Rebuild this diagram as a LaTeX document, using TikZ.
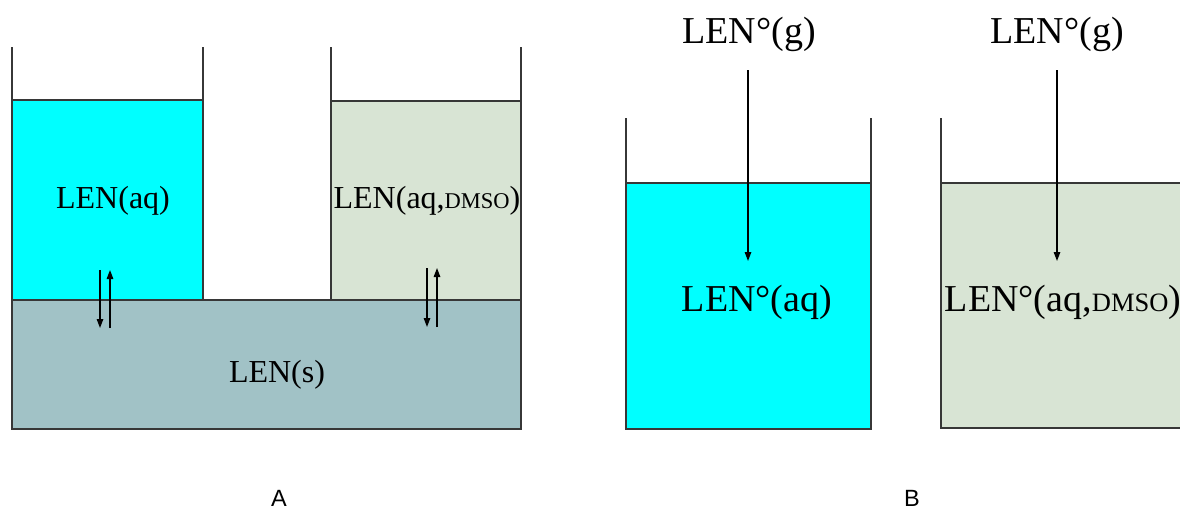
\documentclass[tikz,border=0pt]{standalone}
\usepackage{fontspec}
\setmainfont{Liberation Serif}
\newfontfamily\arialfont{Liberation Sans}
\usetikzlibrary{arrows.meta}
\definecolor{aqcol}{RGB}{0,255,255}
\definecolor{dmsocol}{RGB}{216,228,212}
\definecolor{solidcol}{RGB}{161,194,198}
\definecolor{edgecol}{RGB}{55,55,55}
\newcommand\smcA[1]{{\fontsize{22.5}{26}\selectfont #1}}
\newcommand\smcB[1]{{\fontsize{26.5}{30}\selectfont #1}}
\begin{document}
\begin{tikzpicture}[x=1pt,y=-1pt,
  wall/.style={draw=edgecol,line width=1.6pt},
  liquid/.style={draw=edgecol,line width=1.6pt},
  arr/.style={line width=1.3pt,black,-{Triangle[length=9pt,width=6.5pt]}},
  labA/.style={inner sep=0pt,font=\fontsize{32}{36}\selectfont},
  labB/.style={inner sep=0pt,font=\fontsize{38}{44}\selectfont},
  panel/.style={inner sep=0pt,font=\arialfont\fontsize{23.5}{27}\selectfont}]
\useasboundingbox (0,0) rectangle (1180,509);
\clip (0,0) rectangle (1180,509);
% ---------- Panel A ----------
\fill[solidcol] (12,300) rectangle (521,429);
\draw[liquid] (12,300) rectangle (521,429);
\fill[aqcol] (12,100) rectangle (203,300);
\draw[liquid] (12,100) rectangle (203,300);
\fill[dmsocol] (331,101) rectangle (521,300);
\draw[liquid] (331,101) rectangle (521,300);
\draw[wall] (12,47) -- (12,100);
\draw[wall] (203,47) -- (203,100);
\draw[wall] (331,47) -- (331,101);
\draw[wall] (521,47) -- (521,101);
\node[labA] (aq) at (113,201) {LEN(aq)};
\node[labA] (aqd) at (427,201) {LEN(aq,\smcA{DMSO})};
\node[labA] (s) at (277,375) {LEN(s)};
\coordinate (a1t) at (100,270); \coordinate (a1b) at (100,328);
\coordinate (a2t) at (110,270); \coordinate (a2b) at (110,328);
\coordinate (b1t) at (427,268); \coordinate (b1b) at (427,327);
\coordinate (b2t) at (437,268); \coordinate (b2b) at (437,327);
\draw[arr] (a1t) -- (a1b);
\draw[arr] (a2b) -- (a2t);
\draw[arr] (b1t) -- (b1b);
\draw[arr] (b2b) -- (b2t);
\node[panel] (A) at (279,498) {A};
% ---------- Panel B ----------
\fill[aqcol] (626,183) rectangle (871,429);
\draw[liquid] (626,183) rectangle (871,429);
\draw[wall] (626,118) -- (626,183);
\draw[wall] (871,118) -- (871,183);
\fill[dmsocol] (941,183) rectangle (1200,428);
\draw[liquid] (941,183) rectangle (1200,428);
\draw[wall] (941,118) -- (941,183);
\node[labB] (g1) at (749,34) {LEN°(g)};
\node[labB] (g2) at (1057,34) {LEN°(g)};
\node[labB] (baq) at (757,302) {LEN°(aq)};
\node[labB] (bdmso) at (1063,302) {LEN°(aq,\smcB{DMSO})};
\coordinate (c1t) at (748,70); \coordinate (c1b) at (748,261);
\coordinate (c2t) at (1057,70); \coordinate (c2b) at (1057,261);
\draw[arr] (c1t) -- (c1b);
\draw[arr] (c2t) -- (c2b);
\node[panel] (B) at (912,498) {B};
\end{tikzpicture}
\end{document}
